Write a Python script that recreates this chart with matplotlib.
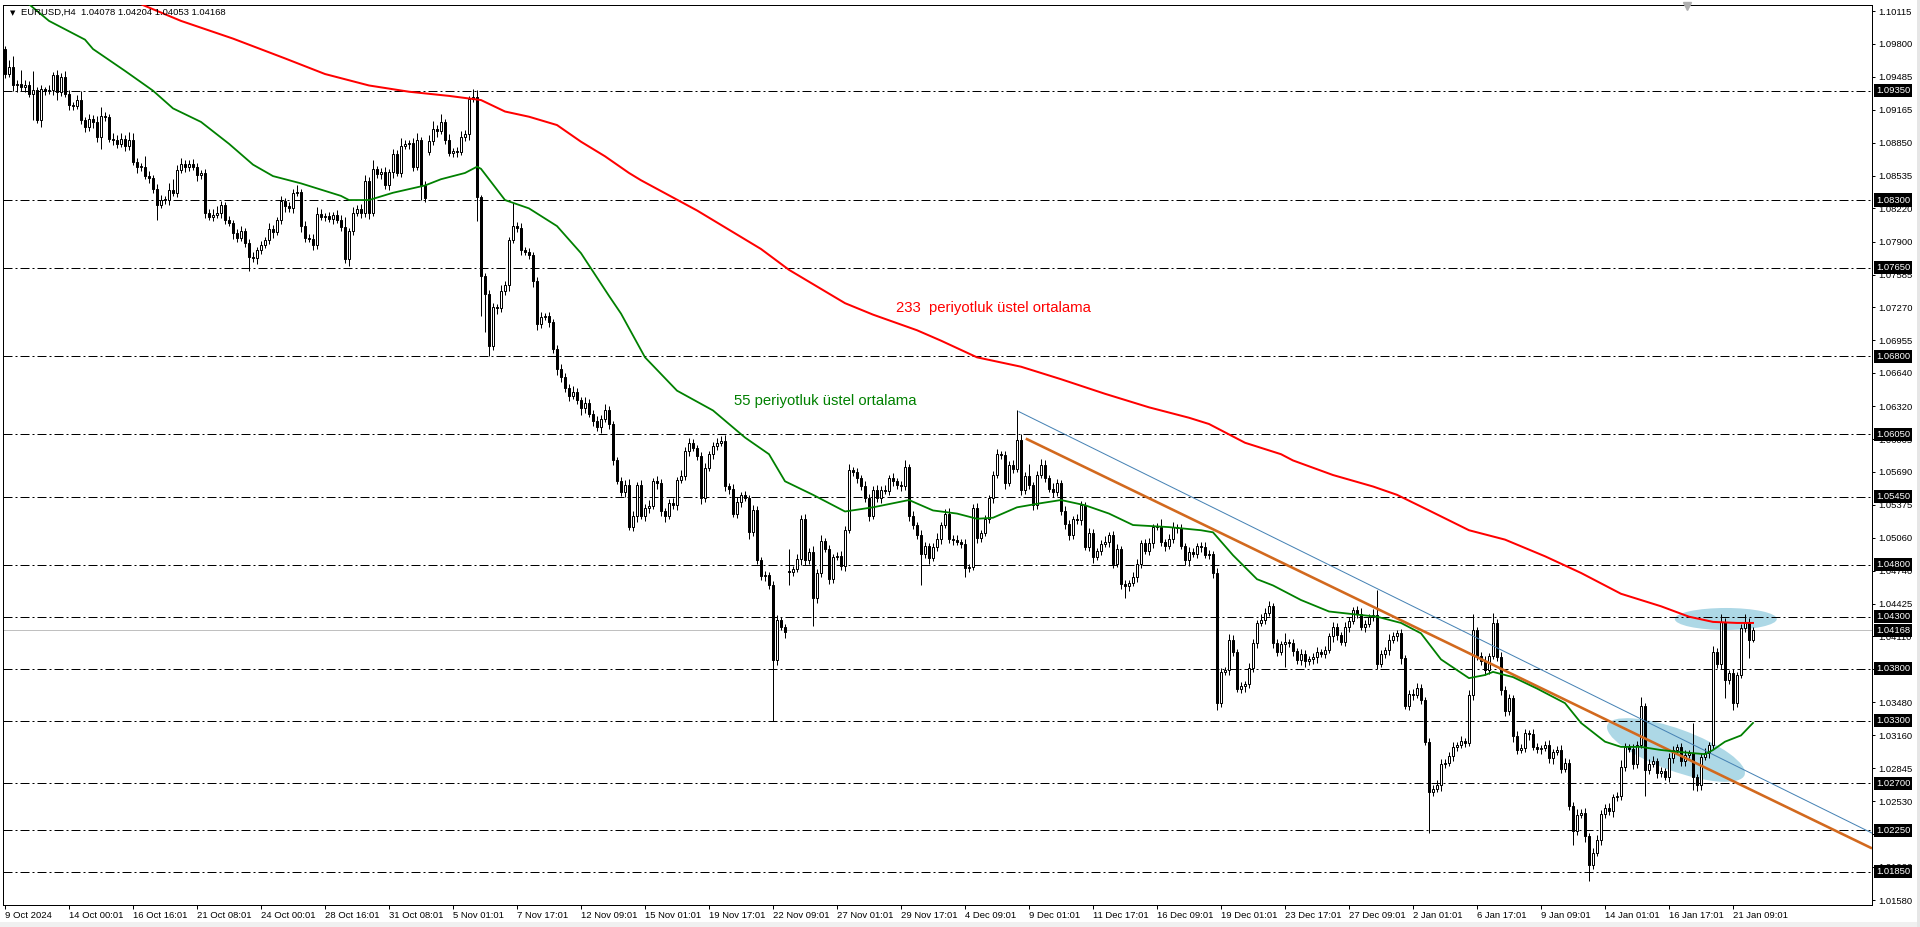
"""
plot.py - EURUSD H4 candlestick chart with 55 / 233 EMA, levels and trend lines.
"""

import matplotlib
matplotlib.use("Agg")
import matplotlib.pyplot as plt
import matplotlib.transforms as mtransforms
from matplotlib.patches import Ellipse, Rectangle
import numpy as np

plt.rcParams["font.family"] = ["Liberation Sans", "DejaVu Sans"]
plt.rcParams["lines.scale_dashes"] = False

# ---------------------------------------------------------------- data ----
symbol_title = "EURUSD,H4  1.04078 1.04204 1.04053 1.04168"

first_open = 1.0975
# H4 closes, one per bar (9 Oct 2024 08:00 ... 22 Jan 2025)
closes = [
    1.0951, 1.0958, 1.0940, 1.0941, 1.0939, 1.0940, 1.0932, 1.0936, 1.0907, 1.0937,
    1.0935, 1.0936, 1.0950, 1.0934, 1.0948, 1.0932, 1.0921, 1.0920, 1.0926, 1.0907,
    1.0900, 1.0908, 1.0905, 1.0891, 1.0911, 1.0910, 1.0889, 1.0888, 1.0884, 1.0889,
    1.0882, 1.0888, 1.0867, 1.0862, 1.0862, 1.0853, 1.0851, 1.0841, 1.0825, 1.0830,
    1.0830, 1.0840, 1.0837, 1.0859, 1.0865, 1.0862, 1.0865, 1.0862, 1.0854, 1.0856,
    1.0818, 1.0814, 1.0816, 1.0818, 1.0825, 1.0811, 1.0808, 1.0798, 1.0794, 1.0800,
    1.0789, 1.0775, 1.0774, 1.0782, 1.0787, 1.0792, 1.0802, 1.0799, 1.0811, 1.0829,
    1.0824, 1.0822, 1.0837, 1.0838, 1.0805, 1.0794, 1.0793, 1.0787, 1.0817, 1.0814,
    1.0815, 1.0812, 1.0816, 1.0811, 1.0804, 1.0773, 1.0800, 1.0818, 1.0821, 1.0818,
    1.0848, 1.0818, 1.0860, 1.0855, 1.0857, 1.0844, 1.0857, 1.0874, 1.0856, 1.0882,
    1.0884, 1.0885, 1.0862, 1.0888, 1.0844, 1.0832, 1.0887, 1.0898, 1.0896, 1.0905,
    1.0888, 1.0875, 1.0877, 1.0876, 1.0891, 1.0893, 1.0927, 1.0929, 1.0833, 1.0757,
    1.0740, 1.0690, 1.0727, 1.0726, 1.0743, 1.0748, 1.0792, 1.0805, 1.0803, 1.0782,
    1.0780, 1.0777, 1.0752, 1.0711, 1.0718, 1.0719, 1.0713, 1.0687, 1.0668, 1.0660,
    1.0650, 1.0642, 1.0646, 1.0638, 1.0630, 1.0635, 1.0625, 1.0618, 1.0612, 1.0620,
    1.0628, 1.0615, 1.0580, 1.0560, 1.0550, 1.0556, 1.0516, 1.0527, 1.0556, 1.0527,
    1.0534, 1.0536, 1.0560, 1.0558, 1.0531, 1.0527, 1.0539, 1.0537, 1.0561, 1.0565,
    1.0589, 1.0597, 1.0592, 1.0584, 1.0544, 1.0573, 1.0586, 1.0594, 1.0597, 1.0599,
    1.0555, 1.0553, 1.0529, 1.0540, 1.0547, 1.0544, 1.0511, 1.0532, 1.0484, 1.0469,
    1.0470, 1.0460, 1.0388, 1.0427, 1.0420, 1.0415, 1.0473, 1.0476, 1.0485, 1.0524,
    1.0484, 1.0492, 1.0448, 1.0472, 1.0503, 1.0495, 1.0466, 1.0487, 1.0488, 1.0479,
    1.0513, 1.0571, 1.0569, 1.0563, 1.0555, 1.0544, 1.0527, 1.0552, 1.0544, 1.0552,
    1.0551, 1.0563, 1.0560, 1.0556, 1.0555, 1.0574, 1.0527, 1.0518, 1.0508, 1.0490,
    1.0498, 1.0486, 1.0497, 1.0505, 1.0518, 1.0529, 1.0505, 1.0504, 1.0502, 1.0500,
    1.0477, 1.0478, 1.0534, 1.0506, 1.0510, 1.0524, 1.0544, 1.0566, 1.0586, 1.0585,
    1.0558, 1.0576, 1.0572, 1.0600, 1.0552, 1.0565, 1.0556, 1.0537, 1.0566, 1.0576,
    1.0563, 1.0553, 1.0550, 1.0558, 1.0531, 1.0519, 1.0508, 1.0524, 1.0523, 1.0537,
    1.0497, 1.0510, 1.0487, 1.0493, 1.0500, 1.0502, 1.0508, 1.0481, 1.0495, 1.0461,
    1.0459, 1.0462, 1.0468, 1.0481, 1.0501, 1.0493, 1.0501, 1.0516, 1.0516, 1.0502,
    1.0498, 1.0505, 1.0516, 1.0515, 1.0498, 1.0484, 1.0492, 1.0490, 1.0498, 1.0497,
    1.0489, 1.0490, 1.0472, 1.0347, 1.0377, 1.0379, 1.0408, 1.0396, 1.0361, 1.0363,
    1.0365, 1.0381, 1.0405, 1.0424, 1.0427, 1.0434, 1.0440, 1.0405, 1.0396, 1.0404,
    1.0406, 1.0405, 1.0397, 1.0388, 1.0394, 1.0387, 1.0389, 1.0391, 1.0396, 1.0394,
    1.0398, 1.0411, 1.0420, 1.0412, 1.0406, 1.0420, 1.0426, 1.0436, 1.0433, 1.0420,
    1.0423, 1.0430, 1.0432, 1.0385, 1.0394, 1.0398, 1.0408, 1.0411, 1.0414, 1.0390,
    1.0344, 1.0356, 1.0355, 1.0362, 1.0350, 1.0310, 1.0262, 1.0265, 1.0268, 1.0289,
    1.0290, 1.0296, 1.0305, 1.0307, 1.0311, 1.0309, 1.0355, 1.0417, 1.0392, 1.0387,
    1.0379, 1.0392, 1.0424, 1.0391, 1.0360, 1.0339, 1.0352, 1.0315, 1.0302, 1.0304,
    1.0318, 1.0317, 1.0305, 1.0303, 1.0304, 1.0307, 1.0294, 1.0300, 1.0302, 1.0284,
    1.0290, 1.0248, 1.0224, 1.0240, 1.0242, 1.0219, 1.0192, 1.0203, 1.0216, 1.0241,
    1.0246, 1.0243, 1.0257, 1.0258, 1.0286, 1.0305, 1.0303, 1.0289, 1.0307, 1.0344,
    1.0283, 1.0289, 1.0291, 1.0280, 1.0282, 1.0276, 1.0294, 1.0302, 1.0305, 1.0291,
    1.0297, 1.0299, 1.0276, 1.0268, 1.0295, 1.0299, 1.0307, 1.0396, 1.0385, 1.0425,
    1.0369, 1.0376, 1.0347, 1.0374, 1.0419, 1.0425, 1.04078, 1.04168,
]
# weekend gaps: bar -> open price
gap_opens = {106: 1.0876, 196: 1.0474}

# wick lengths beyond the body, in pips
wick_up = [
    3, 6, 10, 4, 14, 5, 4, 18, 3, 3, 2, 4, 3, 5, 4, 6, 4, 3, 5, 9,
    3, 5, 4, 6, 8, 4, 3, 5, 4, 5, 3, 7, 6, 3, 4, 10, 5, 3, 4, 5,
    4, 6, 10, 5, 5, 3, 3, 4, 4, 3, 4, 3, 5, 6, 4, 3, 4, 3, 4, 5,
    3, 4, 5, 3, 4, 3, 6, 4, 3, 5, 3, 4, 4, 6, 3, 5, 3, 4, 6, 4,
    3, 4, 3, 4, 5, 10, 3, 5, 4, 5, 6, 4, 8, 3, 4, 5, 3, 5, 4, 8,
    4, 3, 5, 6, 3, 4, 5, 8, 4, 8, 3, 5, 3, 4, 5, 4, 3, 8, 7, 2,
    3, 4, 4, 3, 5, 4, 3, 22, 4, 5, 3, 4, 3, 4, 5, 3, 4, 3, 4, 5,
    4, 3, 5, 4, 3, 6, 4, 3, 5, 4, 6, 4, 3, 3, 4, 5, 6, 4, 3, 5,
    4, 6, 3, 5, 4, 3, 4, 5, 3, 6, 4, 5, 4, 3, 4, 5, 3, 4, 5, 4,
    5, 3, 4, 5, 3, 4, 3, 5, 4, 3, 4, 3, 4, 5, 3, 3, 21, 3, 5, 4,
    5, 4, 6, 4, 5, 3, 4, 3, 4, 5, 4, 6, 3, 4, 3, 5, 4, 3, 4, 3,
    4, 3, 5, 3, 4, 6, 3, 4, 3, 5, 4, 3, 4, 5, 3, 4, 5, 3, 4, 3,
    5, 3, 4, 5, 3, 4, 3, 4, 5, 3, 4, 3, 4, 28, 5, 4, 12, 3, 4, 5,
    4, 3, 5, 4, 3, 5, 4, 3, 5, 4, 3, 5, 4, 3, 4, 5, 3, 4, 5, 3,
    4, 3, 5, 4, 3, 4, 5, 3, 4, 8, 3, 4, 5, 3, 4, 3, 5, 4, 3, 4,
    5, 4, 3, 5, 4, 3, 5, 4, 3, 4, 3, 5, 4, 3, 6, 4, 5, 3, 4, 3,
    8, 3, 4, 3, 5, 4, 3, 4, 5, 3, 4, 3, 5, 4, 3, 5, 4, 3, 4, 5,
    4, 3, 5, 24, 4, 3, 5, 4, 3, 4, 3, 4, 5, 4, 3, 3, 4, 3, 5, 4,
    3, 4, 5, 3, 4, 3, 5, 16, 3, 4, 5, 3, 10, 4, 5, 3, 4, 3, 5, 4,
    4, 3, 5, 4, 3, 4, 5, 3, 4, 5, 4, 3, 4, 5, 3, 4, 3, 5, 4, 3,
    4, 5, 3, 4, 6, 4, 3, 5, 4, 9, 3, 4, 5, 3, 4, 3, 5, 4, 3, 4,
    5, 3, 29, 3, 4, 5, 3, 6, 4, 8, 4, 3, 4, 3, 4, 8, 4, 3.6,
]
wick_dn = [
    4, 3, 5, 6, 4, 5, 3, 25, 3, 7, 4, 3, 5, 8, 4, 3, 5, 4, 3, 4,
    5, 4, 6, 5, 12, 4, 3, 5, 4, 3, 5, 4, 3, 6, 4, 3, 5, 4, 14, 3,
    4, 5, 3, 4, 3, 5, 4, 3, 6, 4, 5, 3, 4, 3, 5, 4, 3, 5, 4, 3,
    4, 13, 3, 5, 4, 3, 4, 5, 3, 4, 5, 3, 4, 3, 6, 4, 3, 5, 4, 3,
    4, 3, 5, 3, 4, 3, 6, 4, 3, 5, 4, 6, 3, 4, 5, 3, 4, 6, 3, 4,
    3, 5, 4, 3, 14, 4, 3, 4, 5, 3, 4, 3, 4, 5, 3, 4, 5, 3, 23, 38,
    37, 10, 4, 5, 3, 4, 5, 3, 4, 5, 3, 4, 5, 6, 4, 3, 5, 4, 6, 5,
    4, 5, 3, 4, 6, 4, 3, 5, 4, 6, 3, 5, 4, 3, 4, 5, 3, 4, 6, 3,
    5, 4, 3, 5, 4, 6, 3, 4, 5, 3, 4, 5, 3, 4, 6, 4, 3, 5, 4, 3,
    4, 5, 3, 4, 5, 3, 6, 4, 3, 4, 5, 3, 58, 4, 3, 5, 13, 4, 3, 5,
    4, 3, 27, 5, 4, 3, 5, 4, 3, 4, 5, 3, 4, 5, 3, 4, 5, 3, 4, 5,
    3, 4, 5, 3, 4, 3, 5, 4, 3, 30, 4, 5, 3, 4, 5, 3, 4, 5, 3, 4,
    9, 4, 3, 5, 4, 3, 4, 5, 3, 4, 5, 3, 4, 3, 5, 4, 3, 5, 4, 3,
    4, 3, 5, 4, 3, 5, 4, 3, 4, 5, 3, 4, 5, 3, 4, 3, 5, 4, 3, 4,
    11, 4, 3, 5, 4, 3, 4, 5, 3, 4, 5, 3, 4, 5, 3, 4, 5, 3, 4, 5,
    3, 4, 5, 7, 4, 3, 5, 4, 3, 4, 5, 3, 4, 5, 3, 4, 3, 5, 4, 3,
    22, 4, 5, 3, 4, 5, 3, 4, 5, 3, 4, 3, 5, 4, 3, 4, 5, 3, 4, 3,
    5, 3, 4, 5, 3, 4, 5, 3, 4, 5, 3, 4, 5, 3, 4, 3, 40, 4, 3, 5,
    4, 3, 5, 4, 3, 4, 3, 5, 4, 3, 5, 4, 3, 4, 5, 4, 3, 5, 4, 3,
    4, 5, 3, 4, 5, 3, 4, 5, 3, 4, 3, 4, 13, 4, 3, 5, 16, 4, 3, 5,
    4, 3, 5, 4, 4, 4, 3, 5, 4, 3, 25, 4, 3, 5, 4, 3, 5, 4, 3, 4,
    4, 3, 12, 5, 4, 3, 5, 4, 4, 5, 17, 4, 7, 4, 3, 4, 17, 2.5,
]

# moving averages: (bar, value)
ema233_bar = [28, 34, 44, 57, 70, 80, 91, 101, 111, 117, 119, 125, 131, 138, 144,
              150, 156, 159, 173, 189, 196, 210, 217, 228, 234, 243, 254, 264, 275,
              286, 296, 301, 310, 319, 322, 332, 342, 348, 356, 366, 375, 385, 394,
              404, 414, 421, 427, 433, 437]
ema233_val = [1.1027, 1.1018, 1.1002, 1.0985, 1.0966, 1.0951, 1.0940, 1.0934, 1.0930,
              1.0927, 1.0926, 1.0915, 1.0910, 1.0902, 1.0886, 1.0872, 1.0856, 1.0849,
              1.0820, 1.0783, 1.0763, 1.0731, 1.0720, 1.0705, 1.0695, 1.0679, 1.0670,
              1.0658, 1.0644, 1.0631, 1.0621, 1.0615, 1.0597, 1.0586, 1.0580, 1.0566,
              1.0555, 1.0547, 1.0532, 1.0513, 1.0504, 1.0488, 1.0472, 1.0452, 1.0440,
              1.0430, 1.0425, 1.0424, 1.0424]
ema55_bar = [4, 6, 11, 20, 22, 30, 37, 42, 49, 56, 62, 67, 74, 84, 86, 91, 97, 105,
             109, 115, 118, 119, 125, 131, 138, 144, 151, 154, 160, 168, 177, 185, 191,
             195, 202, 210, 217, 226, 232, 238, 243, 247, 253, 259, 264, 270, 276, 282,
             291, 299, 302, 307, 313, 317, 324, 331, 338, 343, 349, 354, 359, 366, 370,
             372, 377, 383, 390, 394, 400, 404, 409, 414, 419, 425, 427, 430, 434, 437]
ema55_val = [1.1024, 1.1018, 1.1002, 1.0984, 1.0975, 1.0954, 1.0935, 1.0918, 1.0905,
             1.0884, 1.0864, 1.0853, 1.0846, 1.0834, 1.0830, 1.0830, 1.0837, 1.0844,
             1.0850, 1.0856, 1.0862, 1.0860, 1.0830, 1.0822, 1.0805, 1.0779, 1.0738,
             1.0721, 1.0679, 1.0647, 1.0628, 1.0602, 1.0586, 1.0560, 1.0547, 1.0531,
             1.0535, 1.0542, 1.0532, 1.0529, 1.0524, 1.0525, 1.0535, 1.0539, 1.0542,
             1.0537, 1.0529, 1.0518, 1.0516, 1.0513, 1.0511, 1.0489, 1.0466, 1.0460,
             1.0446, 1.0435, 1.0432, 1.0430, 1.0424, 1.0414, 1.0389, 1.0371, 1.0374,
             1.0377, 1.0372, 1.0361, 1.0347, 1.0328, 1.0310, 1.0305, 1.0305, 1.0302,
             1.0300, 1.0298, 1.0302, 1.0310, 1.0316, 1.0328]

# trend lines (two anchors each, drawn as rays to the right)
blue_anchor_bar = [253.4, 303]
blue_anchor_val = [1.0627, 1.05329]
orange_anchor_bar = [255.2, 303]
orange_anchor_val = [1.0601, 1.05121]

levels = [1.0935, 1.0830, 1.0765, 1.0680, 1.0605, 1.0545, 1.0480, 1.0430,
          1.0380, 1.0330, 1.0270, 1.0225, 1.0185]
current_price = 1.04168

ytick_labels = ["1.10115", "1.09800", "1.09485", "1.09165", "1.08850", "1.08535",
                "1.08220", "1.07900", "1.07585", "1.07270", "1.06955", "1.06640",
                "1.06320", "1.06005", "1.05690", "1.05375", "1.05060", "1.04740",
                "1.04425", "1.04110", "1.03795", "1.03480", "1.03160", "1.02845",
                "1.02530", "1.02215", "1.01900", "1.01580"]
xtick_labels = ["9 Oct 2024", "14 Oct 00:01", "16 Oct 16:01", "21 Oct 08:01",
                "24 Oct 00:01", "28 Oct 16:01", "31 Oct 08:01", "5 Nov 01:01",
                "7 Nov 17:01", "12 Nov 09:01", "15 Nov 01:01", "19 Nov 17:01",
                "22 Nov 09:01", "27 Nov 01:01", "29 Nov 17:01", "4 Dec 09:01",
                "9 Dec 01:01", "11 Dec 17:01", "16 Dec 09:01", "19 Dec 01:01",
                "23 Dec 17:01", "27 Dec 09:01", "2 Jan 01:01", "6 Jan 17:01",
                "9 Jan 09:01", "14 Jan 01:01", "16 Jan 17:01", "21 Jan 09:01"]
BARS_PER_XLABEL = 16

label_233 = "233  periyotluk üstel ortalama"
label_55 = "55 periyotluk üstel ortalama"

# ---------------------------------------------------------------- layout ----
W_PX, H_PX, DPI = 1920, 927, 100
PX = 72.0 / DPI  # one pixel in points
AX_LEFT, AX_RIGHT, AX_TOP, AX_BOTTOM = 3, 1872, 4.7, 904.7  # pixels
PIP = 0.0001


def pixel_ellipse(ax, fig, cx, cy, w_px, h_px, angle):
    """Filled ellipse sized in pixels, centred on a data point."""
    trans = fig.dpi_scale_trans + mtransforms.ScaledTranslation(cx, cy, ax.transData)
    ax.add_patch(Ellipse((0, 0), w_px / DPI, h_px / DPI, angle=angle,
                         transform=trans, facecolor="#ADD8E6",
                         edgecolor="none", zorder=1))


def main():
    c = np.array(closes, dtype=float)
    o = np.concatenate([[first_open], c[:-1]])
    for bar, val in gap_opens.items():
        o[bar] = val
    hi = np.maximum(o, c) + np.array(wick_up) * PIP
    lo = np.minimum(o, c) - np.array(wick_dn) * PIP
    x = np.arange(len(c))

    fig = plt.figure(figsize=(W_PX / DPI, H_PX / DPI), dpi=DPI, facecolor="white")
    ax = fig.add_axes([AX_LEFT / W_PX, (H_PX - AX_BOTTOM) / H_PX,
                       (AX_RIGHT - AX_LEFT) / W_PX, (AX_BOTTOM - AX_TOP) / H_PX])
    ax.set_facecolor("white")

    # highlighted zones
    pixel_ellipse(ax, fig, 430.2, 1.04278, 102, 22, 0)
    pixel_ellipse(ax, fig, 417.75, 1.0302, 146, 42, -20)

    # horizontal levels (dash-dot) and current price
    for lvl in levels:
        ln = ax.axhline(lvl, color="black", lw=PX, zorder=2)
        ln.set_dashes([9 * PX, 3 * PX, 2 * PX, 3 * PX])
    ax.axhline(current_price, color="#C0C0C0", lw=PX, zorder=2)

    # candles
    bull = c >= o
    ax.vlines(x, lo, hi, color="black", lw=PX, zorder=3)
    body_low = np.minimum(o, c)
    body_h = np.maximum(np.abs(c - o), 0.00008)
    ax.bar(x[bull], body_h[bull], bottom=body_low[bull], width=0.5,
           facecolor="white", edgecolor="black", linewidth=PX, zorder=3.5)
    ax.bar(x[~bull], body_h[~bull], bottom=body_low[~bull], width=0.5,
           facecolor="black", edgecolor="black", linewidth=PX, zorder=3.5)

    xmin, xmax = -0.5, (AX_RIGHT - 5) / 4.0

    # trend lines as rays
    for bars, vals, col, lw in [(blue_anchor_bar, blue_anchor_val, "#4682B4", PX),
                                (orange_anchor_bar, orange_anchor_val, "#D2691E", 2.6 * PX)]:
        slope = (vals[1] - vals[0]) / (bars[1] - bars[0])
        end_val = vals[0] + slope * (xmax - bars[0])
        ax.plot([bars[0], xmax], [vals[0], end_val], color=col, lw=lw, zorder=4,
                solid_capstyle="butt")

    # moving averages
    ax.plot(ema233_bar, ema233_val, color="#FF0000", lw=2.0 * PX, zorder=5)
    ax.plot(ema55_bar, ema55_val, color="#008000", lw=1.8 * PX, zorder=5)

    ax.text(222.85, 1.07264, label_233, color="#FF0000", fontsize=10.7,
            ha="left", va="center", zorder=6)
    ax.text(182.25, 1.06373, label_55, color="#008000", fontsize=10.7,
            ha="left", va="center", zorder=6)

    # axes limits
    price_per_px = 1.0 / 10416
    ax.set_xlim(xmin, xmax)
    ax.set_ylim(1.10115 - (AX_BOTTOM - 11) * price_per_px,
                1.10115 + (11 - AX_TOP) * price_per_px)

    # y axis on the right
    ax.yaxis.tick_right()
    ax.set_yticks([float(s) for s in ytick_labels])
    ax.set_yticklabels(ytick_labels)
    ax.tick_params(axis="y", direction="out", length=3 * PX, width=PX,
                   pad=3 * PX, labelsize=6.8, colors="black")

    # x axis labels, left aligned at their tick
    ax.set_xticks(np.arange(len(xtick_labels)) * BARS_PER_XLABEL)
    ax.set_xticklabels(xtick_labels)
    for lab in ax.get_xticklabels():
        lab.set_ha("left")
    ax.tick_params(axis="x", direction="out", length=4 * PX, width=PX,
                   pad=1.5, labelsize=6.8, colors="black")

    for sp in ax.spines.values():
        sp.set_color("black")
        sp.set_linewidth(PX)

    # price boxes on the right axis
    box_trans = mtransforms.blended_transform_factory(ax.transAxes, ax.transData)
    box_x = 1.0 + 4.0 / (AX_RIGHT - AX_LEFT)
    for lvl in levels + [current_price]:
        ax.text(box_x, lvl, f"{lvl:.5f}", transform=box_trans, color="white",
                fontsize=6.8, ha="left", va="center", clip_on=False, zorder=10,
                bbox=dict(boxstyle="square,pad=0.22", facecolor="black",
                          edgecolor="none"))

    # header
    fig.text(10 / W_PX, 1 - 12.7 / H_PX, "\u25bc", fontsize=5,
             family=["DejaVu Sans"], ha="left", va="center", color="black")
    fig.text(21 / W_PX, 1 - 12.7 / H_PX, symbol_title, fontsize=6.8,
             ha="left", va="center", color="black")

    # chart shift marker and window edges
    ax.plot([(1687 - AX_LEFT) / (AX_RIGHT - AX_LEFT)], [1 - 1.5 / (AX_BOTTOM - AX_TOP)],
            marker="v", markersize=6, color="#B0B0B0", transform=ax.transAxes,
            clip_on=False, zorder=7)
    fig.patches.append(Rectangle((0, 0), 1, 5 / H_PX, transform=fig.transFigure,
                                 facecolor="#F0F0F0", edgecolor="none"))
    fig.patches.append(Rectangle((1 - 3 / W_PX, 0), 3 / W_PX, 1,
                                 transform=fig.transFigure,
                                 facecolor="#E6E6E6", edgecolor="none"))

    fig.savefig("out.png", dpi=DPI, facecolor="white")
    plt.close(fig)


if __name__ == "__main__":
    main()
